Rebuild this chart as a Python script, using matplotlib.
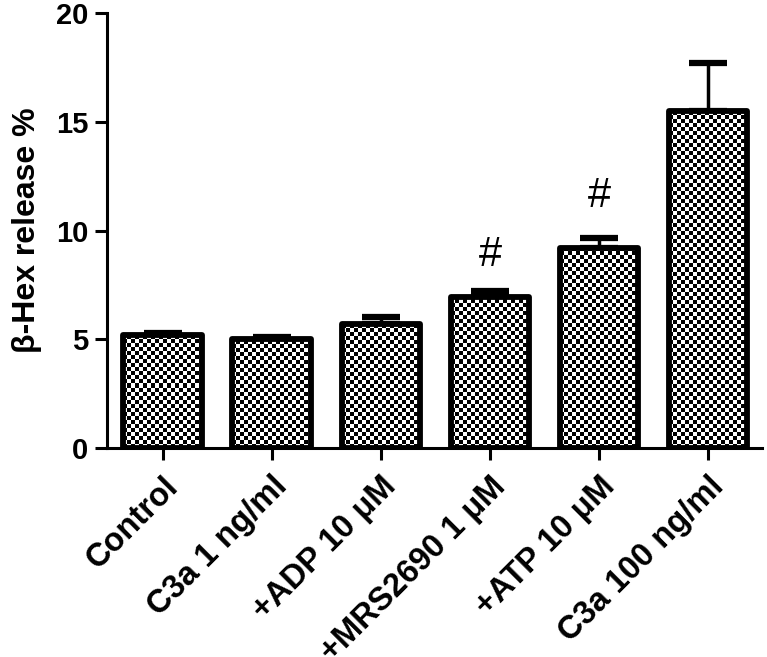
import numpy as np
import matplotlib
matplotlib.use("Agg")
import matplotlib.pyplot as plt
from matplotlib.patches import Rectangle

plt.rcParams['font.family'] = ['Liberation Sans', 'DejaVu Sans']

categories = ["Control", "C3a 1 ng/ml", "+ADP 10 \u03bcM", "+MRS2690 1 \u03bcM",
              "+ATP 10 \u03bcM", "C3a 100 ng/ml"]
values = [5.2, 5.0, 5.7, 6.95, 9.2, 15.5]
errors = [0.1, 0.1, 0.35, 0.25, 0.45, 2.2]
marks = ["", "", "", "#", "#", ""]
mark_y = [0, 0, 0, 8.9, 11.6, 0]
yticks = [0, 5, 10, 15, 20]

fig = plt.figure(figsize=(7.67, 6.57), dpi=100)
ax = fig.add_axes([0.1395, 0.318, 0.8535, 0.662])
x = np.arange(len(categories))
width = 0.72

ax.set_xlim(-0.51, 5.49)
ax.set_ylim(0, 20)

# error bars (upper only)
ax.errorbar(x, values, yerr=[np.zeros(len(errors)), errors], fmt='none',
            ecolor='black', elinewidth=2.5, capsize=14, capthick=4.5, zorder=1)

# checkerboard fill
cell = 4  # px
for xi, v in zip(x, values):
    x0, x1 = xi - width / 2, xi + width / 2
    p0 = ax.transData.transform((x0, 0))
    p1 = ax.transData.transform((x1, v))
    nx = max(2, int((p1[0] - p0[0]) / cell) + 1)
    ny = max(2, int((p1[1] - p0[1]) / cell) + 1)
    board = (np.add.outer(np.arange(ny), np.arange(nx)) % 2).astype(float)
    bg = Rectangle((x0, 0), width, v, facecolor='white', edgecolor='none', zorder=2)
    ax.add_patch(bg)
    im = ax.imshow(board, cmap='gray', vmin=0.0, vmax=1, interpolation='nearest',
                   extent=(x0, x0 + nx * cell * (x1 - x0) / (p1[0] - p0[0]),
                           0, ny * cell * v / (p1[1] - p0[1])),
                   aspect='auto', zorder=2.5)
    im.set_clip_path(bg)
    ax.add_patch(Rectangle((x0, 0), width, v, fill=False, edgecolor='black',
                           linewidth=4.2, joinstyle='round', zorder=3))

for xi, m, my in zip(x, marks, mark_y):
    if m:
        ax.text(xi, my, m, ha='center', va='center', fontsize=30, zorder=4)

ax.set_xlim(-0.51, 5.49)
ax.set_ylim(0, 20)
ax.set_aspect('auto')

ax.spines['top'].set_visible(False)
ax.spines['right'].set_visible(False)
ax.spines['left'].set_linewidth(2.2)
ax.spines['bottom'].set_linewidth(2.2)

ax.set_yticks(yticks)
ax.set_yticklabels([str(t) for t in yticks], fontsize=21, fontweight='bold')
ax.set_xticks(x)
ax.set_xticklabels(categories, rotation=45, ha='right', rotation_mode='anchor',
                   fontsize=23.5, fontweight='bold')
ax.tick_params(axis='both', width=2.2, length=8.5, direction='out')
ax.tick_params(axis='x', pad=8)
ax.tick_params(axis='y', pad=5)

ax.set_ylabel("\u03b2-Hex release %", fontsize=23, fontweight='bold', labelpad=10)

fig.savefig("out.png", dpi=100)
